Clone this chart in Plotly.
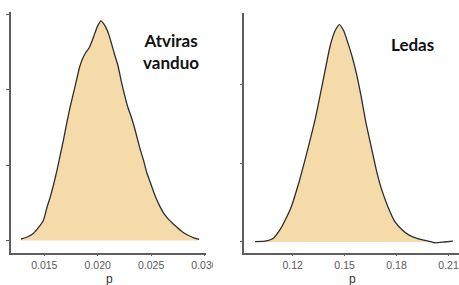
import plotly.graph_objects as go

# ---- data ----
left_p = [0.01282, 0.01330, 0.01397, 0.01450, 0.01491, 0.01525, 0.01560, 0.01590, 0.01620,
          0.01650, 0.01680, 0.01710, 0.01740, 0.01770, 0.01800, 0.01830, 0.01860, 0.01890,
          0.01920, 0.01950, 0.01975, 0.02000, 0.02030, 0.02055, 0.02080, 0.02105, 0.02130,
          0.02160, 0.02190, 0.02220, 0.02250, 0.02280, 0.02310, 0.02340, 0.02370, 0.02400,
          0.02430, 0.02460, 0.02490, 0.02520, 0.02550, 0.02580, 0.02610, 0.02640, 0.02670,
          0.02700, 0.02740, 0.02780, 0.02820, 0.02860, 0.02900, 0.02950]
left_density = [1.0, 2.0, 4.7, 9.0, 13.3, 22.0, 30.0, 38.0, 47.0,
                57.0, 67.0, 78.0, 88.0, 97.0, 106.0, 115.0, 121.0, 125.0,
                128.0, 133.0, 138.0, 142.5, 145.8, 144.0, 141.0, 136.5, 130.5,
                123.0, 116.0, 106.0, 97.0, 89.0, 83.0, 76.0, 68.0, 60.0,
                53.0, 45.0, 39.0, 33.0, 27.5, 23.0, 19.0, 16.0, 13.5,
                11.5, 9.0, 6.5, 4.5, 3.0, 1.8, 0.7]

right_p = [0.0983, 0.1040, 0.1087, 0.1134, 0.1162, 0.1191, 0.1238, 0.1285, 0.1332, 0.1379,
           0.1417, 0.1445, 0.1470, 0.1495, 0.1520, 0.1545, 0.1570, 0.1595, 0.1625, 0.1655,
           0.1685, 0.1715, 0.1750, 0.1790, 0.1830, 0.1870, 0.1926, 0.1983, 0.2021, 0.2077,
           0.2125]
right_density = [0.05, 0.1, 0.45, 1.8, 3.0, 4.4, 7.7, 11.6, 15.8, 20.9,
                 25.0, 26.9, 27.7, 26.9, 25.3, 23.5, 21.3, 18.6, 15.0, 12.0,
                 9.0, 6.6, 4.5, 2.6, 1.6, 0.9, 0.4, 0.12, -0.1, 0.0,
                 0.1]

left_xticks = [0.015, 0.020, 0.025, 0.030]
left_xticktext = ["0.015", "0.020", "0.025", "0.030"]
right_xticks = [0.12, 0.15, 0.18, 0.21]
right_xticktext = ["0.12", "0.15", "0.18", "0.21"]
left_yticks = [0, 50, 100, 150]
right_yticks = [0, 10, 20]

left_label = "Atviras<br>vanduo"
right_label = "Ledas"
x_title = "p"

# ---- figure ----
# positions are expressed as fractions of the 459x285 reference frame;
# the figure is sized to fill the browser window.
W, H = 459, 285
FILL = "#F5DBAA"
LINE = "#2e2e2e"
AXIS = "#5e5e5e"

fig = go.Figure()
fig.add_trace(go.Scatter(x=left_p, y=left_density, mode="lines", fill="tozeroy",
                         fillcolor=FILL, line=dict(color=LINE, width=1.3, shape="spline", smoothing=0.6),
                         xaxis="x", yaxis="y", showlegend=False, hoverinfo="skip"))
fig.add_trace(go.Scatter(x=right_p, y=right_density, mode="lines", fill="tozeroy",
                         fillcolor=FILL, line=dict(color=LINE, width=1.3, shape="spline", smoothing=0.6),
                         xaxis="x2", yaxis="y2", showlegend=False, hoverinfo="skip"))

def px_x(v):
    return v / W

def px_y(v):
    return 1 - v / H

xcommon = dict(showline=True, linecolor=AXIS, linewidth=1.5, showgrid=False, zeroline=False,
               ticks="outside", ticklen=2, tickcolor=AXIS, tickwidth=1,
               tickfont=dict(family="Liberation Sans, Arial", size=10.5, color="#5a5a5a"))
ycommon = dict(showline=True, linecolor=AXIS, linewidth=1.5, showgrid=False, zeroline=False,
               ticks="outside", ticklen=3, tickcolor=AXIS, tickwidth=1, showticklabels=False)

fig.update_layout(
    autosize=True, margin=dict(l=0, r=0, t=0, b=0, autoexpand=False),
    paper_bgcolor="white", plot_bgcolor="white",
    xaxis=dict(xcommon, domain=[px_x(10.7), px_x(206)], range=[0.011854, 0.03014],
               tickvals=left_xticks, ticktext=left_xticktext, anchor="y"),
    yaxis=dict(ycommon, domain=[px_y(252.5), px_y(12)], range=[-7.96, 151.7],
               tickvals=left_yticks, anchor="x"),
    xaxis2=dict(xcommon, domain=[px_x(244.3), 1.0], range=[0.09213, 0.21602],
                tickvals=right_xticks, ticktext=right_xticktext, anchor="y2"),
    yaxis2=dict(ycommon, domain=[px_y(252.5), px_y(13)], range=[-1.34, 29.17],
                tickvals=right_yticks, anchor="x2"),
    annotations=[
        dict(text="<b>" + left_label + "</b>", x=px_x(171), y=px_y(51), xref="paper", yref="paper",
             showarrow=False, xanchor="center", yanchor="middle",
             font=dict(family="Lato", size=17, color="#111111")),
        dict(text="<b>" + right_label + "</b>", x=px_x(412), y=px_y(44), xref="paper", yref="paper",
             showarrow=False, xanchor="center", yanchor="middle",
             font=dict(family="Lato", size=17, color="#111111")),
        dict(text=x_title, x=px_x(109), y=px_y(279), xref="paper", yref="paper",
             showarrow=False, xanchor="center", yanchor="middle", borderpad=0,
             font=dict(family="Liberation Sans, Arial", size=12, color="#333333")),
        dict(text=x_title, x=px_x(352), y=px_y(279), xref="paper", yref="paper",
             showarrow=False, xanchor="center", yanchor="middle", borderpad=0,
             font=dict(family="Liberation Sans, Arial", size=12, color="#333333")),
    ],
    shapes=[
        dict(type="rect", xref="paper", yref="paper", x0=px_x(213), x1=px_x(240),
             y0=px_y(272), y1=px_y(254), fillcolor="white", line=dict(width=0), layer="above"),
    ],
)

# fill the window exactly: no page margin, figure sized to the viewport
fig.write_html(
    "out.html",
    default_width="100vw",
    default_height="100vh",
    config={"displayModeBar": False},
    post_script="document.body.style.margin='0';document.body.style.overflow='hidden';"
                "Plotly.Plots.resize(document.getElementById('{plot_id}'));",
)
